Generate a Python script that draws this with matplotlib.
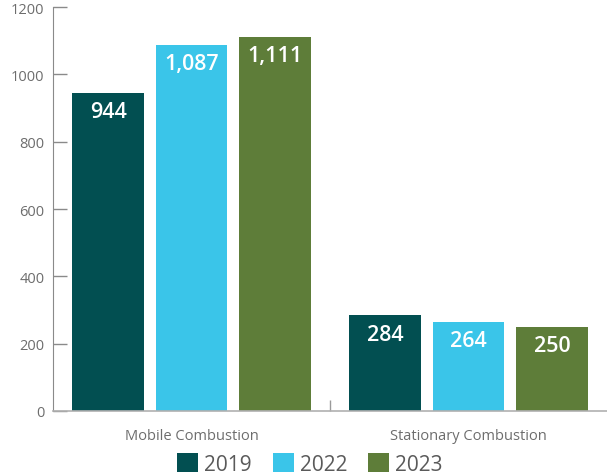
import matplotlib
matplotlib.use("Agg")
import matplotlib.pyplot as plt
from matplotlib.patches import Patch
import numpy as np

categories = ["Mobile Combustion", "Stationary Combustion"]
years = ["2019", "2022", "2023"]
values_2019 = [944, 284]
values_2022 = [1087, 264]
values_2023 = [1111, 250]
labels_2019 = ["944", "284"]
labels_2022 = ["1,087", "264"]
labels_2023 = ["1,111", "250"]
y_ticks = [0, 200, 400, 600, 800, 1000, 1200]

colors = ["#024F51", "#3AC5E9", "#5E7D39"]
series = [values_2019, values_2022, values_2023]
series_labels = [labels_2019, labels_2022, labels_2023]

plt.rcParams["font.family"] = ["Open Sans", "DejaVu Sans"]

fig = plt.figure(figsize=(6.07, 4.77), dpi=100)
ax = fig.add_axes([53 / 607, 65 / 477, 554 / 607, 404 / 477])

x = np.arange(len(categories))
width = 0.258
stride = 0.301

for i, (vals, labs, col) in enumerate(zip(series, series_labels, colors)):
    pos = x + (i - 1) * stride
    bars = ax.bar(pos, vals, width=width, color=col, label=years[i], zorder=2)
    for b, v, t in zip(bars, vals, labs):
        ax.annotate(t, (b.get_x() + b.get_width() / 2, v),
                    xytext=(0, -13.5), textcoords="offset points",
                    ha="center", va="center", color="white",
                    fontsize=15.5, fontweight="semibold")

ax.set_xlim(-0.5, 1.5)
ax.set_ylim(0, 1200)
ax.set_yticks(y_ticks)
ax.set_yticklabels([str(t) for t in y_ticks])
ax.tick_params(axis="y", direction="in", length=10, width=1, color="#8a8a8a",
               labelcolor="#6d6d6d", labelsize=10.5, pad=6)

ax.set_xticks(x)
ax.set_xticklabels(categories)
ax.tick_params(axis="x", length=0, labelcolor="#6d6d6d", labelsize=10.5, pad=12)
ax.set_xticks([0.5], minor=True)
ax.tick_params(axis="x", which="minor", direction="in", length=8, width=1,
               color="#9a9a9a")

for s in ["top", "right"]:
    ax.spines[s].set_visible(False)
ax.spines["left"].set_color("#8a8a8a")
ax.spines["bottom"].set_color("#b0b0b0")
ax.spines["bottom"].set_linewidth(1.2)

handles = [Patch(facecolor=c, edgecolor="none") for c in colors]
fig.legend(handles, years, loc="center", bbox_to_anchor=(310 / 607, 1 - 465 / 477),
           ncol=3, frameon=False, fontsize=15, labelcolor="#5a5a5a",
           handlelength=1.0, handleheight=1.0, handletextpad=0.3,
           columnspacing=1.0)

fig.savefig("out.png", dpi=100)
